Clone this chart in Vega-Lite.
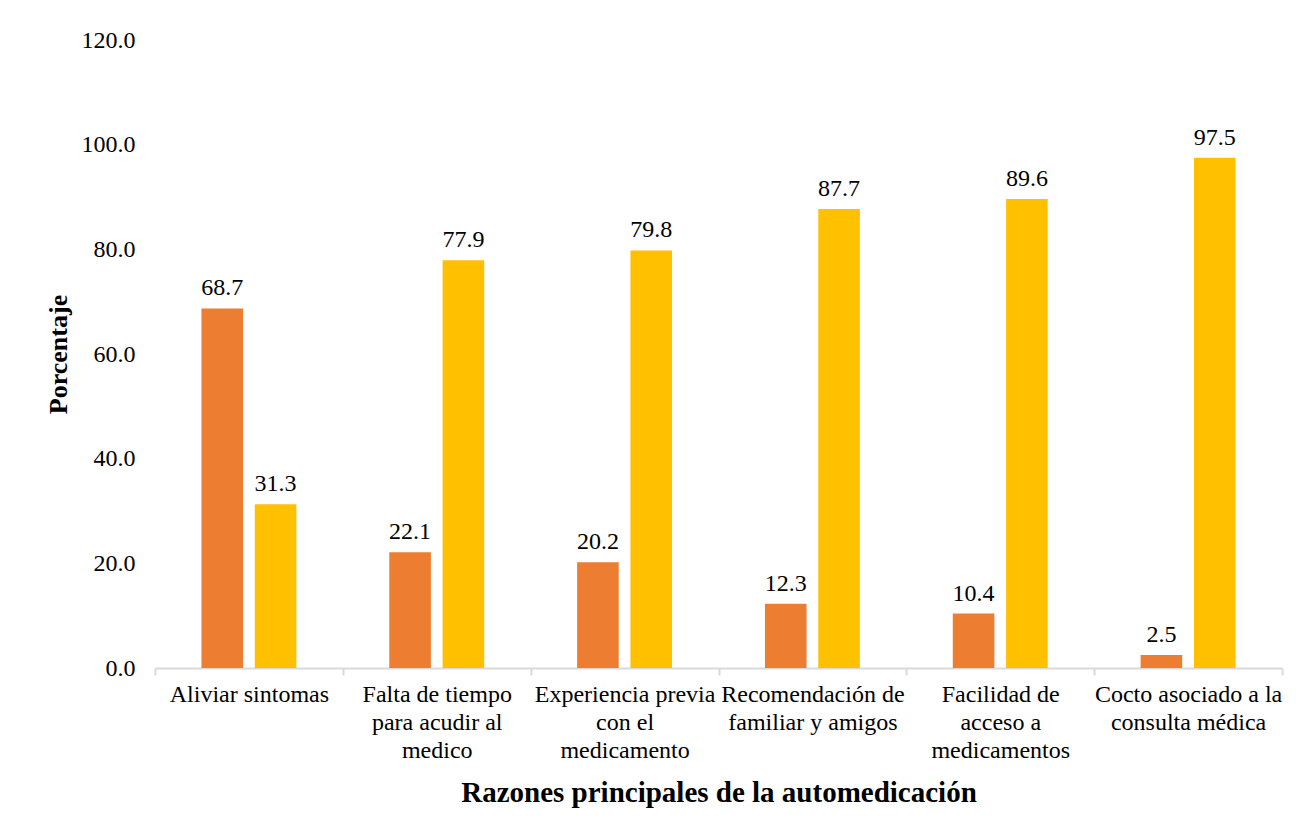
{
  "$schema": "https://vega.github.io/schema/vega-lite/v6.json",
  "autosize": "none",
  "width": 1127,
  "height": 628,
  "padding": {"left": 155, "top": 40, "right": 28, "bottom": 165},
  "background": "white",
  "config": {
    "view": {"stroke": null},
    "font": "Times New Roman, Liberation Serif, serif",
    "text": {"font": "Times New Roman, Liberation Serif, serif"},
    "axis": {
      "labelFont": "Times New Roman, Liberation Serif, serif",
      "titleFont": "Times New Roman, Liberation Serif, serif"
    }
  },
  "data": {
    "values": [
      {"razon": "Aliviar sintomas", "serie": "Sí", "valor": 68.7},
      {"razon": "Aliviar sintomas", "serie": "No", "valor": 31.3},
      {"razon": "Falta de tiempo para acudir al medico", "serie": "Sí", "valor": 22.1},
      {"razon": "Falta de tiempo para acudir al medico", "serie": "No", "valor": 77.9},
      {"razon": "Experiencia previa con el medicamento", "serie": "Sí", "valor": 20.2},
      {"razon": "Experiencia previa con el medicamento", "serie": "No", "valor": 79.8},
      {"razon": "Recomendación de familiar y amigos", "serie": "Sí", "valor": 12.3},
      {"razon": "Recomendación de familiar y amigos", "serie": "No", "valor": 87.7},
      {"razon": "Facilidad de acceso a medicamentos", "serie": "Sí", "valor": 10.4},
      {"razon": "Facilidad de acceso a medicamentos", "serie": "No", "valor": 89.6},
      {"razon": "Cocto asociado a la consulta médica", "serie": "Sí", "valor": 2.5},
      {"razon": "Cocto asociado a la consulta médica", "serie": "No", "valor": 97.5}
    ]
  },
  "encoding": {
    "x": {
      "field": "razon",
      "type": "nominal",
      "sort": null,
      "scale": {"paddingInner": 0, "paddingOuter": 0},
      "axis": {
        "title": "Razones principales de la automedicación",
        "titleFontSize": 29,
        "titleFontWeight": "bold",
        "titleColor": "black",
        "titlePadding": 16,
        "labelAngle": 0,
        "labelFontSize": 24,
        "labelColor": "black",
        "labelPadding": 7,
        "labelLineHeight": 28,
        "labelLimit": 0,
        "labelExpr": "datum.value == 'Falta de tiempo para acudir al medico' ? ['Falta de tiempo', 'para acudir al', 'medico'] : datum.value == 'Experiencia previa con el medicamento' ? ['Experiencia previa', 'con el', 'medicamento'] : datum.value == 'Recomendación de familiar y amigos' ? ['Recomendación de', 'familiar y amigos'] : datum.value == 'Facilidad de acceso a medicamentos' ? ['Facilidad de', 'acceso a', 'medicamentos'] : datum.value == 'Cocto asociado a la consulta médica' ? ['Cocto asociado a la', 'consulta médica'] : datum.value",
        "tickBand": "extent",
        "tickColor": "#d9d9d9",
        "tickWidth": 2,
        "tickSize": 7,
        "domainColor": "#d9d9d9",
        "domainWidth": 2
      }
    },
    "xOffset": {
      "field": "serie",
      "type": "nominal",
      "sort": ["Sí", "No"],
      "scale": {"paddingInner": 0.22, "paddingOuter": 0.871}
    },
    "y": {
      "field": "valor",
      "type": "quantitative",
      "scale": {"domain": [0, 120], "nice": false},
      "axis": {
        "title": "Porcentaje",
        "titleFontSize": 26,
        "titleFontWeight": "bold",
        "titleColor": "black",
        "titlePadding": 10,
        "values": [0, 20, 40, 60, 80, 100, 120],
        "format": ".1f",
        "labelFontSize": 24,
        "labelColor": "black",
        "labelPadding": 20,
        "ticks": false,
        "domain": false,
        "grid": false
      }
    }
  },
  "layer": [
    {
      "mark": {"type": "bar"},
      "encoding": {
        "color": {
          "field": "serie",
          "type": "nominal",
          "scale": {"domain": ["Sí", "No"], "range": ["#ED7D31", "#FFC000"]},
          "legend": null
        }
      }
    },
    {
      "mark": {"type": "text", "dy": -13, "baseline": "alphabetic", "fontSize": 24, "font": "Times New Roman, Liberation Serif, serif", "color": "black"},
      "encoding": {
        "text": {"field": "valor", "type": "quantitative", "format": ".1f"}
      }
    }
  ]
}
